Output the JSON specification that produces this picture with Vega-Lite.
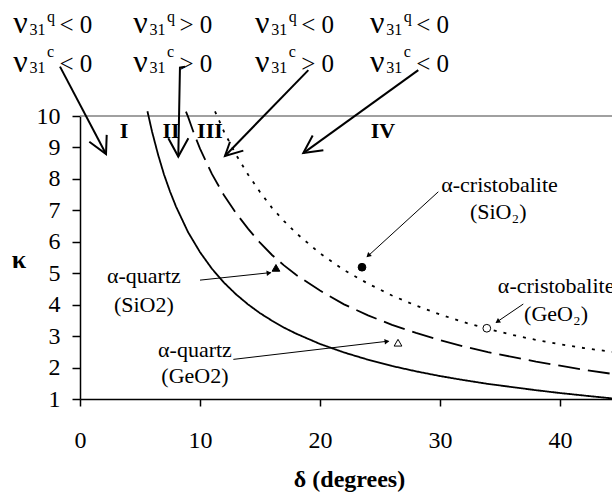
{
  "$schema": "https://vega.github.io/schema/vega-lite/v6.json",
  "width": 532,
  "height": 283,
  "autosize": {"type": "none"},
  "padding": {"left": 80, "top": 116, "right": 0, "bottom": 94},
  "background": "white",
  "config": {"font": "Liberation Serif", "view": {"stroke": null}, "text": {"font": "Liberation Serif"}, "axis": {"labelFont": "Liberation Serif", "titleFont": "Liberation Serif"}},
  "datasets": {
    "topline": [{"d": 0, "k": 10}, {"d": 44.333, "k": 10}],
    "curves": [
      {"curve": "solid", "d": 5.62, "k": 10.15}, {"curve": "solid", "d": 6, "k": 9.51}, {"curve": "solid", "d": 6.5, "k": 8.78},
      {"curve": "solid", "d": 7, "k": 8.14}, {"curve": "solid", "d": 7.5, "k": 7.6}, {"curve": "solid", "d": 8, "k": 7.12},
      {"curve": "solid", "d": 9, "k": 6.31}, {"curve": "solid", "d": 10, "k": 5.67}, {"curve": "solid", "d": 11, "k": 5.14},
      {"curve": "solid", "d": 12, "k": 4.7}, {"curve": "solid", "d": 13, "k": 4.33}, {"curve": "solid", "d": 14, "k": 4.01},
      {"curve": "solid", "d": 15, "k": 3.73}, {"curve": "solid", "d": 16, "k": 3.49}, {"curve": "solid", "d": 17, "k": 3.27},
      {"curve": "solid", "d": 18, "k": 3.08}, {"curve": "solid", "d": 20, "k": 2.75}, {"curve": "solid", "d": 22, "k": 2.48},
      {"curve": "solid", "d": 24, "k": 2.25}, {"curve": "solid", "d": 26, "k": 2.05}, {"curve": "solid", "d": 28, "k": 1.88},
      {"curve": "solid", "d": 30, "k": 1.73}, {"curve": "solid", "d": 32, "k": 1.6}, {"curve": "solid", "d": 34, "k": 1.48},
      {"curve": "solid", "d": 36, "k": 1.38}, {"curve": "solid", "d": 38, "k": 1.28}, {"curve": "solid", "d": 40, "k": 1.19},
      {"curve": "solid", "d": 42, "k": 1.11}, {"curve": "solid", "d": 44.333, "k": 1.02},
      {"curve": "dashed", "d": 8.83, "k": 10.14}, {"curve": "dashed", "d": 9, "k": 9.98}, {"curve": "dashed", "d": 9.5, "k": 9.44},
      {"curve": "dashed", "d": 10, "k": 8.96}, {"curve": "dashed", "d": 11, "k": 8.15}, {"curve": "dashed", "d": 12, "k": 7.48},
      {"curve": "dashed", "d": 13, "k": 6.91}, {"curve": "dashed", "d": 14, "k": 6.42}, {"curve": "dashed", "d": 15, "k": 5.97},
      {"curve": "dashed", "d": 16, "k": 5.58}, {"curve": "dashed", "d": 17, "k": 5.25}, {"curve": "dashed", "d": 18, "k": 4.95},
      {"curve": "dashed", "d": 20, "k": 4.45}, {"curve": "dashed", "d": 22, "k": 4.01}, {"curve": "dashed", "d": 24, "k": 3.66},
      {"curve": "dashed", "d": 26, "k": 3.36}, {"curve": "dashed", "d": 28, "k": 3.1}, {"curve": "dashed", "d": 30, "k": 2.87},
      {"curve": "dashed", "d": 32, "k": 2.67}, {"curve": "dashed", "d": 34, "k": 2.49}, {"curve": "dashed", "d": 36, "k": 2.34},
      {"curve": "dashed", "d": 38, "k": 2.19}, {"curve": "dashed", "d": 40, "k": 2.06}, {"curve": "dashed", "d": 42, "k": 1.93},
      {"curve": "dashed", "d": 44.333, "k": 1.8},
      {"curve": "dotted", "d": 11.25, "k": 10.15}, {"curve": "dotted", "d": 12, "k": 9.5}, {"curve": "dotted", "d": 13, "k": 8.77},
      {"curve": "dotted", "d": 14, "k": 8.14}, {"curve": "dotted", "d": 15, "k": 7.58}, {"curve": "dotted", "d": 16, "k": 7.08},
      {"curve": "dotted", "d": 17, "k": 6.66}, {"curve": "dotted", "d": 18, "k": 6.28}, {"curve": "dotted", "d": 20, "k": 5.63},
      {"curve": "dotted", "d": 22, "k": 5.1}, {"curve": "dotted", "d": 24, "k": 4.67}, {"curve": "dotted", "d": 26, "k": 4.29},
      {"curve": "dotted", "d": 28, "k": 3.97}, {"curve": "dotted", "d": 30, "k": 3.69}, {"curve": "dotted", "d": 32, "k": 3.44},
      {"curve": "dotted", "d": 34, "k": 3.23}, {"curve": "dotted", "d": 36, "k": 3.04}, {"curve": "dotted", "d": 38, "k": 2.88},
      {"curve": "dotted", "d": 40, "k": 2.74}, {"curve": "dotted", "d": 42, "k": 2.62}, {"curve": "dotted", "d": 44.333, "k": 2.5}
    ],
    "bigArrows": [
      {"part": "A1", "seq": 1, "d": -1.667, "k": 11.57}, {"part": "A1", "seq": 2, "d": 2.167, "k": 8.79},
      {"part": "A2", "seq": 1, "d": 0.775, "k": 9.18}, {"part": "A2", "seq": 2, "d": 2.167, "k": 8.79}, {"part": "A2", "seq": 3, "d": 2.225, "k": 9.4},
      {"part": "B1", "seq": 1, "d": 8.75, "k": 11.57}, {"part": "B1", "seq": 2, "d": 8.33, "k": 11.54}, {"part": "B1", "seq": 3, "d": 8.19, "k": 8.71},
      {"part": "B2", "seq": 1, "d": 7.36, "k": 9.29}, {"part": "B2", "seq": 2, "d": 8.19, "k": 8.71}, {"part": "B2", "seq": 3, "d": 9.03, "k": 9.29},
      {"part": "C1", "seq": 1, "d": 19.03, "k": 11.46}, {"part": "C1", "seq": 2, "d": 12.08, "k": 8.73},
      {"part": "C2", "seq": 1, "d": 12.5, "k": 9.18}, {"part": "C2", "seq": 2, "d": 12.08, "k": 8.73}, {"part": "C2", "seq": 3, "d": 13.61, "k": 8.9},
      {"part": "D1", "seq": 1, "d": 28.19, "k": 11.46}, {"part": "D1", "seq": 2, "d": 18.61, "k": 8.82},
      {"part": "D2", "seq": 1, "d": 19.39, "k": 9.38}, {"part": "D2", "seq": 2, "d": 18.61, "k": 8.82}, {"part": "D2", "seq": 3, "d": 20.28, "k": 8.91}
    ],
    "pointers": [
      {"id": "p1", "seq": 1, "d": 10.0, "k": 4.78}, {"id": "p1", "seq": 2, "d": 15.9, "k": 5.02},
      {"id": "p2", "seq": 1, "d": 12.78, "k": 2.26}, {"id": "p2", "seq": 2, "d": 25.7, "k": 2.84},
      {"id": "p3", "seq": 1, "d": 29.86, "k": 7.59}, {"id": "p3", "seq": 2, "d": 23.95, "k": 5.53},
      {"id": "p4", "seq": 1, "d": 36.94, "k": 4.02}, {"id": "p4", "seq": 2, "d": 34.7, "k": 3.44}
    ],
    "heads": [
      {"id": "p1", "d": 15.75, "k": 5.01},
      {"id": "p2", "d": 25.58, "k": 2.83},
      {"id": "p3", "d": 24.02, "k": 5.56},
      {"id": "p4", "d": 34.79, "k": 3.46}
    ],
    "markers": [
      {"name": "qSiO2", "d": 16.33, "k": 5.17},
      {"name": "qGeO2", "d": 26.5, "k": 2.79},
      {"name": "cSiO2", "d": 23.5, "k": 5.19},
      {"name": "cGeO2", "d": 33.9, "k": 3.25}
    ],
    "notes": [
      {"t": "α-quartz", "d": 5.32, "k": 4.69},
      {"t": "(SiO2)", "d": 5.32, "k": 3.77},
      {"t": "α-quartz", "d": 9.58, "k": 2.32},
      {"t": "(GeO2)", "d": 9.58, "k": 1.5},
      {"t": "α-cristobalite", "d": 34.96, "k": 7.59},
      {"t": "(SiO₂)", "d": 34.85, "k": 6.74},
      {"t": "α-cristobalite", "d": 39.68, "k": 4.38},
      {"t": "(GeO₂)", "d": 39.67, "k": 3.49}
    ],
    "regions": [
      {"t": "I", "d": 3.67, "k": 9.3},
      {"t": "II", "d": 7.58, "k": 9.3},
      {"t": "III", "d": 10.83, "k": 9.3},
      {"t": "IV", "d": 25.25, "k": 9.3}
    ],
    "tops": [
      {"kind": "nu", "t": "ν", "d": -5.56, "k": 12.64}, {"kind": "script", "t": "31", "d": -4.2, "k": 12.58}, {"kind": "script", "t": "q", "d": -2.75, "k": 13.0}, {"kind": "main", "t": "< 0", "d": -1.71, "k": 12.64},
      {"kind": "nu", "t": "ν", "d": 4.44, "k": 12.64}, {"kind": "script", "t": "31", "d": 5.8, "k": 12.58}, {"kind": "script", "t": "q", "d": 7.25, "k": 13.0}, {"kind": "main", "t": "> 0", "d": 8.29, "k": 12.64},
      {"kind": "nu", "t": "ν", "d": 14.58, "k": 12.64}, {"kind": "script", "t": "31", "d": 15.94, "k": 12.58}, {"kind": "script", "t": "q", "d": 17.39, "k": 13.0}, {"kind": "main", "t": "< 0", "d": 18.43, "k": 12.64},
      {"kind": "nu", "t": "ν", "d": 24.17, "k": 12.64}, {"kind": "script", "t": "31", "d": 25.53, "k": 12.58}, {"kind": "script", "t": "q", "d": 26.98, "k": 13.0}, {"kind": "main", "t": "< 0", "d": 28.02, "k": 12.64},
      {"kind": "nu", "t": "ν", "d": -5.56, "k": 11.41}, {"kind": "script", "t": "31", "d": -4.2, "k": 11.38}, {"kind": "script", "t": "c", "d": -2.75, "k": 11.88}, {"kind": "main", "t": "< 0", "d": -1.71, "k": 11.41},
      {"kind": "nu", "t": "ν", "d": 4.44, "k": 11.41}, {"kind": "script", "t": "31", "d": 5.8, "k": 11.38}, {"kind": "script", "t": "c", "d": 7.25, "k": 11.88}, {"kind": "main", "t": "> 0", "d": 8.29, "k": 11.41},
      {"kind": "nu", "t": "ν", "d": 14.58, "k": 11.41}, {"kind": "script", "t": "31", "d": 15.94, "k": 11.38}, {"kind": "script", "t": "c", "d": 17.39, "k": 11.88}, {"kind": "main", "t": "> 0", "d": 18.43, "k": 11.41},
      {"kind": "nu", "t": "ν", "d": 24.17, "k": 11.41}, {"kind": "script", "t": "31", "d": 25.53, "k": 11.38}, {"kind": "script", "t": "c", "d": 26.98, "k": 11.88}, {"kind": "main", "t": "< 0", "d": 28.02, "k": 11.41}
    ]
  },
  "encoding": {
    "x": {
      "field": "d", "type": "quantitative",
      "scale": {"domain": [0, 44.333], "nice": false, "zero": false},
      "axis": {
        "values": [0, 10, 20, 30, 40], "grid": false,
        "title": "δ (degrees)", "titleFont": "Liberation Serif", "titleFontSize": 24, "titleFontWeight": "bold", "titleColor": "black",
        "titleX": 269, "titleY": 87, "titleAlign": "center", "titleBaseline": "alphabetic",
        "labelFont": "Liberation Serif", "labelFontSize": 24, "labelColor": "black", "labelPadding": 22, "labelFlush": false, "labelOverlap": false,
        "tickSize": 7, "tickColor": "black", "tickWidth": 1.5, "domainColor": "black", "domainWidth": 1.5
      }
    },
    "y": {
      "field": "k", "type": "quantitative",
      "scale": {"domain": [1, 10], "nice": false, "zero": false},
      "axis": {
        "values": [1, 2, 3, 4, 5, 6, 7, 8, 9, 10], "grid": false,
        "title": "κ", "titleFont": "Liberation Serif", "titleFontSize": 26, "titleFontWeight": "bold", "titleColor": "black", "titleAngle": 0,
        "titleX": -61.5, "titleY": 151, "titleAlign": "center", "titleBaseline": "alphabetic",
        "labelFont": "Liberation Serif", "labelFontSize": 24, "labelColor": "black", "labelPadding": 12, "labelFlush": false, "labelOverlap": false,
        "tickSize": 8, "tickColor": "black", "tickWidth": 1.5, "domainColor": "black", "domainWidth": 1.5
      }
    }
  },
  "layer": [
    {"data": {"name": "topline"}, "mark": {"type": "line", "color": "#808080", "strokeWidth": 1.5}, "encoding": {}},
    {
      "data": {"name": "curves"},
      "mark": {"type": "line", "color": "black", "strokeWidth": 1.8},
      "encoding": {
        "detail": {"field": "curve", "type": "nominal"},
        "strokeDash": {"field": "curve", "type": "nominal", "scale": {"domain": ["solid", "dashed", "dotted"], "range": [[1, 0], [22, 8], [3, 7]]}, "legend": null}
      }
    },
    {
      "data": {"name": "bigArrows"},
      "mark": {"type": "line", "color": "black", "strokeWidth": 2},
      "encoding": {"detail": {"field": "part", "type": "nominal"}, "order": {"field": "seq", "type": "quantitative"}}
    },
    {
      "data": {"name": "pointers"},
      "mark": {"type": "line", "color": "black", "strokeWidth": 1},
      "encoding": {"detail": {"field": "id", "type": "nominal"}, "order": {"field": "seq", "type": "quantitative"}}
    },
    {"data": {"name": "heads"}, "transform": [{"filter": "datum.id === 'p1'"}], "mark": {"type": "point", "shape": "triangle-right", "filled": true, "color": "black", "opacity": 1, "size": 30, "angle": 354}},
    {"data": {"name": "heads"}, "transform": [{"filter": "datum.id === 'p2'"}], "mark": {"type": "point", "shape": "triangle-right", "filled": true, "color": "black", "opacity": 1, "size": 30, "angle": 353}},
    {"data": {"name": "heads"}, "transform": [{"filter": "datum.id === 'p3'"}], "mark": {"type": "point", "shape": "triangle-right", "filled": true, "color": "black", "opacity": 1, "size": 30, "angle": 137}},
    {"data": {"name": "heads"}, "transform": [{"filter": "datum.id === 'p4'"}], "mark": {"type": "point", "shape": "triangle-right", "filled": true, "color": "black", "opacity": 1, "size": 30, "angle": 146}},
    {
      "data": {"name": "markers"},
      "mark": {"type": "point", "filled": true, "stroke": "black", "strokeWidth": 1, "opacity": 1, "size": 60},
      "encoding": {
        "shape": {"field": "name", "type": "nominal", "scale": {"domain": ["qSiO2", "qGeO2", "cSiO2", "cGeO2"], "range": ["triangle-up", "triangle-up", "circle", "circle"]}, "legend": null},
        "fill": {"field": "name", "type": "nominal", "scale": {"domain": ["qSiO2", "qGeO2", "cSiO2", "cGeO2"], "range": ["black", "white", "black", "white"]}, "legend": null}
      }
    },
    {
      "data": {"name": "notes"},
      "mark": {"type": "text", "font": "Liberation Serif", "fontSize": 22, "align": "center", "baseline": "alphabetic", "color": "black"},
      "encoding": {"text": {"field": "t", "type": "nominal"}}
    },
    {
      "data": {"name": "regions"},
      "mark": {"type": "text", "font": "Liberation Serif", "fontSize": 22, "fontWeight": "bold", "align": "center", "baseline": "alphabetic", "color": "black"},
      "encoding": {"text": {"field": "t", "type": "nominal"}}
    },
    {
      "data": {"name": "tops"},
      "transform": [{"filter": "datum.kind === 'nu'"}],
      "mark": {"type": "text", "font": "Liberation Serif", "fontSize": 32, "align": "left", "baseline": "alphabetic", "color": "black"},
      "encoding": {"text": {"field": "t", "type": "nominal"}}
    },
    {
      "data": {"name": "tops"},
      "transform": [{"filter": "datum.kind === 'main'"}],
      "mark": {"type": "text", "font": "Liberation Serif", "fontSize": 25, "align": "left", "baseline": "alphabetic", "color": "black"},
      "encoding": {"text": {"field": "t", "type": "nominal"}}
    },
    {
      "data": {"name": "tops"},
      "transform": [{"filter": "datum.kind === 'script'"}],
      "mark": {"type": "text", "font": "Liberation Serif", "fontSize": 16, "align": "left", "baseline": "alphabetic", "color": "black"},
      "encoding": {"text": {"field": "t", "type": "nominal"}}
    }
  ]
}
